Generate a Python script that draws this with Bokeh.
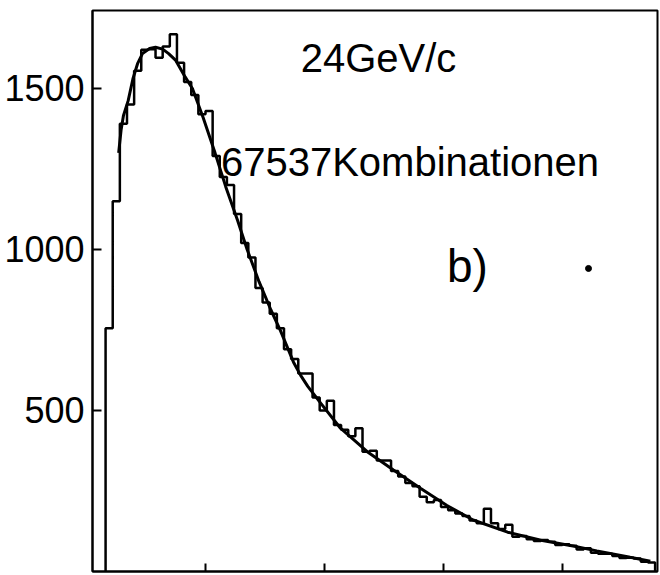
from bokeh.plotting import figure
from bokeh.models import FixedTicker, Label, Range1d
from bokeh.embed import file_html
from bokeh.resources import INLINE

# ---- data ----
bin_start = 0.16
bin_width = 0.06
counts = [755, 1150, 1390, 1450, 1555, 1620, 1622, 1595, 1630, 1668,
          1580, 1520, 1480, 1420, 1430, 1290, 1225, 1200, 1110, 1020,
          975, 880, 835, 800, 755, 690, 660, 615, 615, 540,
          500, 530, 455, 440, 420, 445, 372, 375, 345, 345,
          312, 295, 275, 265, 232, 215, 222, 200, 190, 180,
          172, 158, 150, 195, 150, 132, 145, 108, 110, 100,
          95, 98, 92, 82, 85, 80, 68, 72, 58, 55,
          55, 48, 42, 43, 40, 30, 28]

fit_x = [0.27, 0.29, 0.31, 0.35, 0.39, 0.43, 0.47, 0.53, 0.58, 0.64,
         0.69, 0.75, 0.83, 0.89, 0.98, 1.08, 1.17, 1.27, 1.35, 1.45,
         1.55, 1.63, 1.74, 1.80, 1.86, 1.97, 2.13, 2.36, 2.58, 2.81,
         3.03, 3.25, 3.54, 3.82, 4.09, 4.29, 4.57, 4.74]
fit_y = [1300, 1370, 1415, 1462, 1530, 1578, 1608, 1624, 1628, 1622,
         1608, 1587, 1535, 1500, 1410, 1300, 1195, 1090, 1000, 900,
         812, 748, 650, 609, 575, 522, 447, 372, 315, 258,
         205, 160, 122, 97, 79, 64, 44, 32]

x_ticks = [1, 2, 3, 4]
y_ticks = [500, 1000, 1500]
title_momentum = "24GeV/c"
title_count = "67537Kombinationen"
panel_label = "b)"

# ---- figure ----
p = figure(width=660, height=575, output_backend="svg", toolbar_location=None,
           x_range=Range1d(0.05, 4.80), y_range=Range1d(0, 1742),
           min_border_left=92, min_border_right=3, min_border_top=10,
           min_border_bottom=4)
p.grid.visible = False
p.background_fill_color = "white"
p.border_fill_color = "white"
p.outline_line_color = "black"
p.outline_line_width = 2

# histogram outline
edges = [bin_start + bin_width * i for i in range(len(counts) + 1)]
hx = [edges[0]] + edges
hy = [0] + counts + [0]
p.step(x=hx, y=hy, mode="after", line_color="black", line_width=2.5)

# fitted curve
p.line(x=fit_x, y=fit_y, line_color="black", line_width=3)

# axes
ya = p.yaxis[0]
ya.ticker = FixedTicker(ticks=y_ticks)
ya.major_tick_in = 9
ya.major_tick_out = 0
ya.minor_tick_line_color = None
ya.axis_line_width = 2
ya.major_tick_line_width = 2
ya.major_label_standoff = 8
ya.major_label_text_font = "Liberation Sans"
ya.major_label_text_font_size = "36px"
ya.major_label_text_color = "black"

xa = p.xaxis[0]
xa.ticker = FixedTicker(ticks=x_ticks)
xa.major_tick_in = 8
xa.major_tick_out = 0
xa.minor_tick_line_color = None
xa.axis_line_width = 2
xa.major_tick_line_width = 2
xa.major_label_text_font_size = "1px"
xa.major_label_text_alpha = 0
xa.major_label_standoff = 0

font = "Liberation Sans"
for txt, tx, ty, fs in [(title_momentum, 1.80, 1593, "40px"),
                        (title_count, 1.13, 1271, "40px"),
                        (panel_label, 3.03, 950, "46px")]:
    p.add_layout(Label(x=tx, y=ty, text=txt, text_font=font,
                       text_font_size=fs, text_baseline="alphabetic",
                       text_color="black"))
p.scatter(x=[4.22], y=[941], size=6, color="black")

open("out.html", "w").write(file_html(p, INLINE))
